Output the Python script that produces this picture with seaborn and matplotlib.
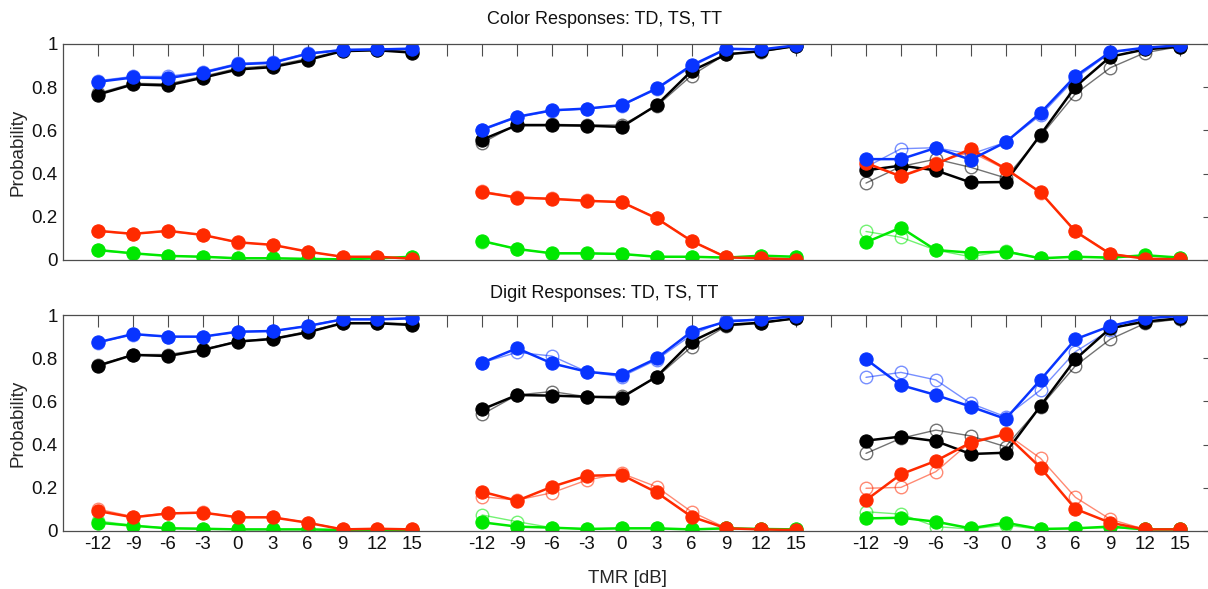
import numpy as np
import pandas as pd
import matplotlib
matplotlib.use("Agg")
import matplotlib.pyplot as plt
import matplotlib.transforms as mtransforms
import seaborn as sns

# ---------------- data ----------------
tmr = [-12, -9, -6, -3, 0, 3, 6, 9, 12, 15]
conditions = ["TD", "TS", "TT"]
row_titles = ["Color Responses: TD, TS, TT", "Digit Responses: TD, TS, TT"]
ytick_vals = [0, 0.2, 0.4, 0.6, 0.8, 1]
ytick_labels = ["0", "0.2", "0.4", "0.6", "0.8", "1"]

# Color responses
color_TD_black = [0.766, 0.813, 0.808, 0.844, 0.882, 0.893, 0.926, 0.967, 0.971, 0.960]
color_TD_black_open = [0.772, 0.818, 0.815, 0.850, 0.888, 0.900, 0.932, 0.970, 0.973, 0.965]
color_TD_blue = [0.825, 0.845, 0.842, 0.867, 0.906, 0.913, 0.955, 0.972, 0.975, 0.978]
color_TD_blue_open = [0.830, 0.850, 0.850, 0.872, 0.910, 0.918, 0.958, 0.975, 0.977, 0.980]
color_TD_red = [0.135, 0.121, 0.135, 0.116, 0.082, 0.070, 0.039, 0.015, 0.015, 0.006]
color_TD_red_open = [0.133, 0.120, 0.133, 0.115, 0.081, 0.070, 0.038, 0.015, 0.014, 0.006]
color_TD_green = [0.046, 0.031, 0.019, 0.015, 0.008, 0.008, 0.005, 0.003, 0.008, 0.015]
color_TD_green_open = [0.044, 0.030, 0.019, 0.015, 0.009, 0.008, 0.006, 0.004, 0.008, 0.012]

color_TS_black = [0.557, 0.624, 0.624, 0.622, 0.616, 0.717, 0.875, 0.952, 0.967, 0.991]
color_TS_black_open = [0.542, 0.628, 0.628, 0.625, 0.625, 0.712, 0.854, 0.955, 0.965, 0.990]
color_TS_blue = [0.604, 0.663, 0.693, 0.701, 0.717, 0.794, 0.901, 0.978, 0.975, 0.994]
color_TS_blue_open = [0.600, 0.660, 0.690, 0.700, 0.715, 0.790, 0.895, 0.975, 0.973, 0.993]
color_TS_red = [0.314, 0.289, 0.283, 0.274, 0.268, 0.193, 0.088, 0.012, 0.008, 0.002]
color_TS_red_open = [0.318, 0.292, 0.285, 0.276, 0.270, 0.195, 0.090, 0.014, 0.009, 0.003]
color_TS_green = [0.088, 0.051, 0.031, 0.031, 0.028, 0.015, 0.015, 0.011, 0.020, 0.015]
color_TS_green_open = [0.085, 0.052, 0.030, 0.030, 0.027, 0.016, 0.015, 0.012, 0.018, 0.014]

color_TT_black = [0.415, 0.437, 0.415, 0.359, 0.361, 0.580, 0.802, 0.941, 0.975, 0.988]
color_TT_black_open = [0.356, 0.433, 0.467, 0.429, 0.380, 0.573, 0.769, 0.890, 0.960, 0.988]
color_TT_blue = [0.467, 0.467, 0.519, 0.464, 0.545, 0.681, 0.851, 0.963, 0.983, 0.994]
color_TT_blue_open = [0.430, 0.515, 0.520, 0.490, 0.545, 0.670, 0.840, 0.960, 0.980, 0.990]
color_TT_red = [0.449, 0.387, 0.444, 0.514, 0.423, 0.313, 0.132, 0.028, 0.006, 0.003]
color_TT_red_open = [0.440, 0.390, 0.450, 0.500, 0.420, 0.310, 0.135, 0.030, 0.007, 0.003]
color_TT_green = [0.082, 0.150, 0.046, 0.034, 0.039, 0.008, 0.015, 0.011, 0.022, 0.011]
color_TT_green_open = [0.132, 0.105, 0.046, 0.015, 0.043, 0.008, 0.015, 0.011, 0.020, 0.011]

# Digit responses
digit_TD_black = [0.766, 0.816, 0.811, 0.839, 0.878, 0.890, 0.921, 0.963, 0.963, 0.955]
digit_TD_black_open = [0.770, 0.818, 0.818, 0.842, 0.880, 0.893, 0.925, 0.966, 0.966, 0.960]
digit_TD_blue = [0.875, 0.913, 0.901, 0.901, 0.924, 0.927, 0.950, 0.981, 0.981, 0.986]
digit_TD_blue_open = [0.873, 0.910, 0.900, 0.900, 0.922, 0.926, 0.952, 0.983, 0.983, 0.988]
digit_TD_red = [0.091, 0.062, 0.080, 0.084, 0.062, 0.062, 0.037, 0.006, 0.009, 0.006]
digit_TD_red_open = [0.100, 0.065, 0.082, 0.085, 0.063, 0.063, 0.038, 0.007, 0.010, 0.007]
digit_TD_green = [0.037, 0.023, 0.011, 0.009, 0.006, 0.006, 0.006, 0.003, 0.003, 0.003]
digit_TD_green_open = [0.045, 0.025, 0.012, 0.010, 0.007, 0.006, 0.007, 0.004, 0.004, 0.003]

digit_TS_black = [0.563, 0.630, 0.627, 0.622, 0.618, 0.715, 0.878, 0.955, 0.966, 0.986]
digit_TS_black_open = [0.540, 0.630, 0.646, 0.622, 0.625, 0.712, 0.854, 0.950, 0.963, 0.986]
digit_TS_blue = [0.780, 0.847, 0.777, 0.738, 0.723, 0.800, 0.924, 0.971, 0.981, 0.997]
digit_TS_blue_open = [0.780, 0.828, 0.811, 0.738, 0.715, 0.793, 0.909, 0.978, 0.981, 0.994]
digit_TS_red = [0.181, 0.139, 0.204, 0.255, 0.259, 0.178, 0.065, 0.011, 0.006, 0.003]
digit_TS_red_open = [0.158, 0.142, 0.176, 0.235, 0.266, 0.204, 0.088, 0.012, 0.007, 0.003]
digit_TS_green = [0.039, 0.019, 0.014, 0.008, 0.011, 0.011, 0.006, 0.011, 0.008, 0.006]
digit_TS_green_open = [0.073, 0.042, 0.014, 0.008, 0.011, 0.011, 0.006, 0.011, 0.008, 0.006]

digit_TT_black = [0.418, 0.437, 0.416, 0.356, 0.362, 0.579, 0.796, 0.940, 0.971, 0.986]
digit_TT_black_open = [0.359, 0.429, 0.467, 0.440, 0.390, 0.576, 0.765, 0.889, 0.963, 0.983]
digit_TT_blue = [0.796, 0.676, 0.630, 0.576, 0.519, 0.700, 0.889, 0.950, 0.986, 0.997]
digit_TT_blue_open = [0.712, 0.735, 0.700, 0.591, 0.529, 0.653, 0.831, 0.932, 0.986, 0.997]
digit_TT_red = [0.142, 0.262, 0.324, 0.409, 0.447, 0.293, 0.101, 0.037, 0.006, 0.006]
digit_TT_red_open = [0.197, 0.201, 0.274, 0.413, 0.452, 0.336, 0.155, 0.053, 0.006, 0.006]
digit_TT_green = [0.057, 0.060, 0.042, 0.011, 0.037, 0.008, 0.011, 0.019, 0.006, 0.006]
digit_TT_green_open = [0.088, 0.077, 0.019, 0.008, 0.026, 0.006, 0.011, 0.015, 0.006, 0.006]

series_colors = {"black": "#000000", "blue": "#0834ff", "red": "#ff2a00", "green": "#00e800"}

rows = {
    "color": {
        "TD": {"black": (color_TD_black, color_TD_black_open), "blue": (color_TD_blue, color_TD_blue_open),
               "red": (color_TD_red, color_TD_red_open), "green": (color_TD_green, color_TD_green_open)},
        "TS": {"black": (color_TS_black, color_TS_black_open), "blue": (color_TS_blue, color_TS_blue_open),
               "red": (color_TS_red, color_TS_red_open), "green": (color_TS_green, color_TS_green_open)},
        "TT": {"black": (color_TT_black, color_TT_black_open), "blue": (color_TT_blue, color_TT_blue_open),
               "red": (color_TT_red, color_TT_red_open), "green": (color_TT_green, color_TT_green_open)},
    },
    "digit": {
        "TD": {"black": (digit_TD_black, digit_TD_black_open), "blue": (digit_TD_blue, digit_TD_blue_open),
               "red": (digit_TD_red, digit_TD_red_open), "green": (digit_TD_green, digit_TD_green_open)},
        "TS": {"black": (digit_TS_black, digit_TS_black_open), "blue": (digit_TS_blue, digit_TS_blue_open),
               "red": (digit_TS_red, digit_TS_red_open), "green": (digit_TS_green, digit_TS_green_open)},
        "TT": {"black": (digit_TT_black, digit_TT_black_open), "blue": (digit_TT_blue, digit_TT_blue_open),
               "red": (digit_TT_red, digit_TT_red_open), "green": (digit_TT_green, digit_TT_green_open)},
    },
}

# ---------------- style ----------------
sns.set_style("white")
plt.rcParams["font.family"] = ["Liberation Sans", "DejaVu Sans"]
plt.rcParams["font.size"] = 13

W, H = 1208, 589
fig = plt.figure(figsize=(W / 100, H / 100), dpi=100)
ax_w = 1151.7 / W
ax_top = fig.add_axes([63.3 / W, (H - 260) / H, ax_w, 216 / H])
ax_bot = fig.add_axes([63.3 / W, (H - 530.7) / H, ax_w, 215.4 / H])

group_gap = len(tmr) + 1
n_pos = group_gap * len(conditions) - 1  # 32 positions incl. gaps
tick_pos = list(range(1, n_pos + 1))
tick_lab = []
for p in tick_pos:
    g, i = divmod(p - 1, group_gap)
    tick_lab.append(str(tmr[i]) if i < len(tmr) else "")

draw_order = ["green", "black", "red", "blue"]

for ax, key, title in [(ax_top, "color", row_titles[0]), (ax_bot, "digit", row_titles[1])]:
    for g, cond in enumerate(conditions):
        xpos = [1 + i + g * group_gap for i in range(len(tmr))]
        # open (thin, light) series underneath
        for name in draw_order:
            _, vals_open = rows[key][cond][name]
            c = series_colors[name]
            sns.lineplot(x=xpos, y=vals_open, ax=ax, color=c, alpha=0.55, linewidth=1.0,
                         marker="o", markersize=9, markerfacecolor="none",
                         markeredgecolor=c, markeredgewidth=1.0, sort=False, legend=False)
        for name in draw_order:
            vals, _ = rows[key][cond][name]
            c = series_colors[name]
            sns.lineplot(x=xpos, y=vals, ax=ax, color=c, linewidth=1.8,
                         marker="o", markersize=9.5, markerfacecolor=c,
                         markeredgecolor=c, markeredgewidth=0.8, sort=False, legend=False)

    ax.set_xlim(0, 33)
    ax.set_ylim(0, 1)
    ax.set_xticks(tick_pos)
    ax.set_xticklabels(tick_lab if ax is ax_bot else [""] * len(tick_pos))
    ax.set_yticks(ytick_vals)
    ax.set_yticklabels(ytick_labels)
    ax.tick_params(axis="both", which="both", direction="in", length=8.3, width=0.8,
                   color="#4d4d4d", top=True, right=True, labelsize=13.5,
                   labelcolor="#111111", pad=4)
    for s in ax.spines.values():
        s.set_color("#4d4d4d")
        s.set_linewidth(0.9)
        s.set_visible(True)
    ax.set_xlabel("")
    ax.set_ylabel("Probability", fontsize=13.5)
    ax.yaxis.set_label_coords((27 - 63.3) / 1151.7, 0.5)
    trans = mtransforms.blended_transform_factory(ax.transData, ax.transAxes)
    ax.text(15.5, 1.0 + (25 if ax is ax_top else 22) / 216, title, transform=trans,
            ha="center", va="center", fontsize=13, color="#111111")

ax_bot.set_xlabel("TMR [dB]", fontsize=13.5)
ax_bot.xaxis.set_label_coords((628 - 63.3) / 1151.7, -(570 - 530.7) / 215.4)
ax_bot.xaxis.label.set_va("top")

fig.savefig("out.png", dpi=100)
